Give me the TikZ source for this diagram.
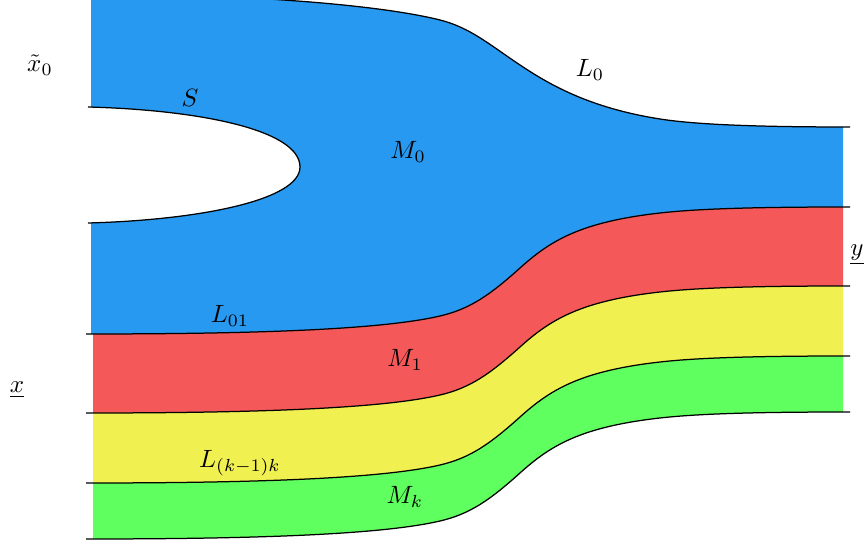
\documentclass[tikz,border=0pt]{standalone}
\usepackage{amsmath}
\definecolor{blueM}{RGB}{40,153,240}
\definecolor{redM}{RGB}{245,88,88}
\definecolor{yellowM}{RGB}{240,240,80}
\definecolor{greenM}{RGB}{94,255,94}
\newcommand\bandfwd[1]{(86,{334+#1}) .. controls (250,{334+#1}) and (380,{330+#1}) .. (440,{316+#1}) .. controls (470,{309+#1}) and (490,{295+#1}) .. (520,{268+#1}) .. controls (550,{241+#1}) and (580,{222+#1}) .. (660,{213+#1}) .. controls (700,{208.5+#1}) and (760,{207+#1}) .. (850,{207+#1})}
\newcommand\bandbwd[1]{(850,{207+#1}) .. controls (760,{207+#1}) and (700,{208.5+#1}) .. (660,{213+#1}) .. controls (580,{222+#1}) and (550,{241+#1}) .. (520,{268+#1}) .. controls (490,{295+#1}) and (470,{309+#1}) .. (440,{316+#1}) .. controls (380,{330+#1}) and (250,{334+#1}) .. (86,{334+#1})}
\newcommand\topcurve{(88,-6) .. controls (250,-6) and (380,5) .. (440,20) .. controls (470,27.5) and (490,45) .. (520,65) .. controls (550,85) and (590,108) .. (660,119) .. controls (700,125.3) and (770,127) .. (850,127)}
\tikzset{
  bline/.style={draw=black, line width=0.5pt},
  lbl/.style={inner sep=0pt}
}
\begin{document}
\begin{tikzpicture}[x=0.4pt,y=-0.4pt]
\useasboundingbox (0,0) rectangle (867,544);
\clip (0,0) rectangle (867,544);
\begin{scope}
  \clip (91,-10) rectangle (843,560);
  \fill[blueM] \topcurve -- \bandbwd{0} -- (88,223) .. controls (200,220) and (300,200) .. (300,167) .. controls (300,130) and (200,110) .. (88,107) -- cycle;
\end{scope}
\begin{scope}
  \clip (93,-10) rectangle (843,560);
  \fill[redM] \bandfwd{0} -- \bandbwd{79} -- cycle;
  \fill[yellowM] \bandfwd{79} -- \bandbwd{149} -- cycle;
  \fill[greenM] \bandfwd{149} -- \bandbwd{205} -- cycle;
\end{scope}
\draw[bline] \topcurve;
\draw[bline] (88,107) .. controls (200,110) and (300,130) .. (300,167) .. controls (300,200) and (200,220) .. (88,223);
\draw[bline] \bandfwd{0};
\draw[bline] \bandfwd{79};
\draw[bline] \bandfwd{149};
\draw[bline] \bandfwd{205};
\node[lbl] (x0) at (40,65) {$\tilde{x}_0$};
\node[lbl] (S) at (190,98) {$S$};
\node[lbl] (M0) at (408,152) {$M_0$};
\node[lbl] (L0) at (590,70) {$L_0$};
\node[lbl] (L01) at (230,316) {$L_{01}$};
\node[lbl] (y) at (857,255) {$\underline{y}$};
\node[lbl] (M1) at (405,360) {$M_1$};
\node[lbl] (x) at (17,390) {$\underline{x}$};
\node[lbl] (Lk) at (240,463) {$L_{(k-1)k}$};
\node[lbl] (Mk) at (405,497) {$M_k$};
\end{tikzpicture}
\end{document}
